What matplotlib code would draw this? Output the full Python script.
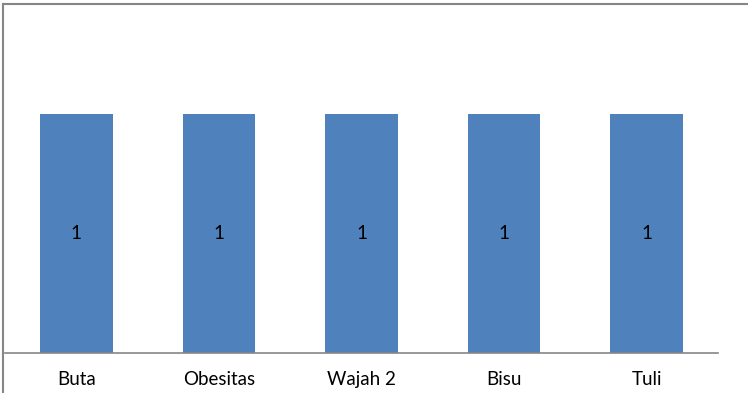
import matplotlib
matplotlib.use("Agg")
import matplotlib.pyplot as plt
from matplotlib.lines import Line2D

categories = ["Buta", "Obesitas", "Wajah 2", "Bisu", "Tuli"]
values = [1, 1, 1, 1, 1]
labels = ["1", "1", "1", "1", "1"]

W, H = 748, 393
fig = plt.figure(figsize=(W / 100, H / 100), dpi=100)
fig.patch.set_facecolor("white")

ax_left, ax_right = 5 / W, 718 / W
ax_bottom = (H - 353) / H
ymax = 1.4
ax_top_px = 353 - ymax * 239
ax = fig.add_axes([ax_left, ax_bottom, ax_right - ax_left, (353 - ax_top_px) / H])

x = range(len(categories))
bars = ax.bar(x, values, width=0.51, color="#4F81BD", edgecolor="none")
for b, lab in zip(bars, labels):
    ax.text(b.get_x() + b.get_width() / 2, b.get_height() / 2, lab,
            ha="center", va="center", fontsize=13.5, family="Lato", color="black")

ax.set_xlim(-0.5, len(categories) - 0.5)
ax.set_ylim(0, ymax)
ax.set_xticks(list(x))
ax.set_xticklabels(categories, fontsize=13.5, family="Lato")
ax.tick_params(axis="x", length=0, pad=13)
ax.set_yticks([])
for s in ["top", "right", "left"]:
    ax.spines[s].set_visible(False)
ax.spines["bottom"].set_color("#868686")
ax.spines["bottom"].set_linewidth(1.2)

# chart border (top and left)
fig.add_artist(Line2D([3.5 / W, 1], [1 - 4 / H, 1 - 4 / H], color="#868686", lw=1.5,
                      transform=fig.transFigure))
fig.add_artist(Line2D([3.5 / W, 3.5 / W], [0, 1 - 4 / H], color="#868686", lw=1.5,
                      transform=fig.transFigure))

fig.savefig("out.png", dpi=100, facecolor="white")
